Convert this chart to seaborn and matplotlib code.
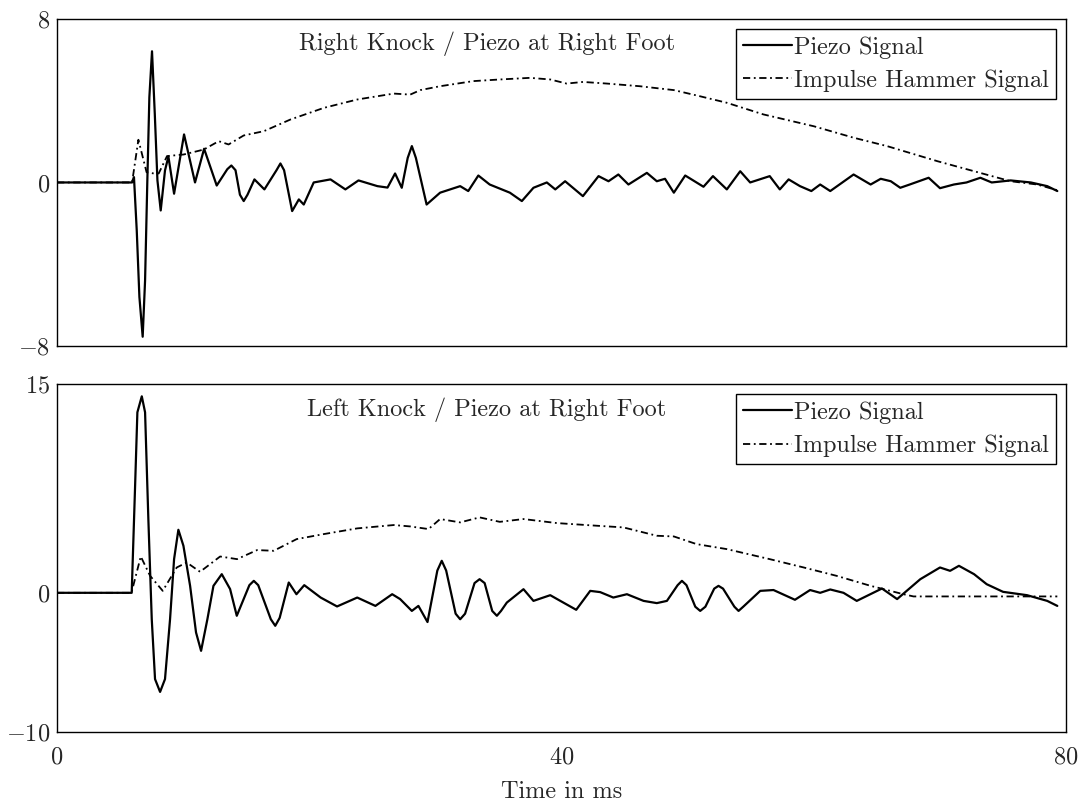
import numpy as np
import pandas as pd
import matplotlib
matplotlib.use("Agg")
import matplotlib.pyplot as plt
import seaborn as sns

# values (time in ms, signal amplitude)
right_piezo_t = [0, 5.95, 6.1, 6.32, 6.53, 6.79, 6.98, 7.16, 7.32, 7.53, 7.75, 7.96, 8.22,
                 8.56, 8.83, 9.28, 10.07, 10.94, 11.66, 12.66, 13.5, 13.82, 14.15, 14.5, 14.8,
                 15.1, 15.65, 16.44, 17.4, 17.71, 18.0, 18.64, 19.17, 19.56, 20.35, 21.68,
                 22.86, 23.9, 25.4, 26.2, 26.8, 27.33, 27.8, 28.13, 28.45, 29.3, 30.37, 31.96,
                 32.6, 33.4, 34.3, 35.9, 36.85, 37.77, 38.83, 39.5, 40.28, 41.69, 42.93, 43.72,
                 44.5, 45.3, 46.76, 47.55, 48.2, 48.9, 49.8, 51.25, 52.0, 53.1, 54.16, 54.95,
                 56.5, 57.3, 58.0, 58.9, 59.8, 60.5, 61.3, 63.15, 64.5, 65.3, 66.1, 66.85, 67.6,
                 69.1, 70.0, 71.1, 72.1, 73.2, 74.1, 75.6, 77.2, 78.5, 79.3]
right_piezo_v = [0, 0, 0.26, -2.35, -5.6, -7.55, -4.8, 0.1, 4.17, 6.42, 3.36, 0.1, -1.37,
                 0.59, 1.27, -0.55, 2.35, 0.0, 1.65, -0.15, 0.65, 0.83, 0.6, -0.6, -0.91,
                 -0.6, 0.15, -0.34, 0.6, 0.93, 0.6, -1.4, -0.83, -1.08, 0.0, 0.15,
                 -0.34, 0.1, -0.18, -0.25, 0.44, -0.26, 1.2, 1.78, 1.2, -1.08, -0.5, -0.18,
                 -0.42, 0.34, -0.1, -0.5, -0.91, -0.26, 0.0, -0.34, 0.06, -0.67, 0.31, 0.06,
                 0.39, -0.1, 0.47, 0.06, 0.18, -0.5, 0.34, -0.21, 0.31, -0.34, 0.55, 0.0,
                 0.31, -0.34, 0.15, -0.18, -0.42, -0.1, -0.42, 0.39, -0.1, 0.18, 0.06, -0.26, -0.1,
                 0.23, -0.28, -0.1, 0.0, 0.23, 0.0, 0.1, 0.0, -0.18, -0.42]

right_hammer_t = [0, 5.95, 6.45, 7.1, 7.67, 8.06, 8.72, 10.05, 11.63, 12.82, 13.6, 14.8, 16.4,
                  18.5, 21.15, 23.8, 26.7, 28.0, 28.8, 30.37, 33.0, 35.1, 37.5, 39.1, 40.4,
                  41.7, 43.6, 46.2, 48.9, 50.7, 53.1, 56.0, 60.0, 63.15, 65.8, 69.8, 72.7,
                  75.6, 77.7, 79.3]
right_hammer_v = [0, 0, 2.09, 0.5, 0.44, 0.44, 1.29, 1.37, 1.61, 2.02, 1.86, 2.3, 2.51,
                  3.08, 3.65, 4.06, 4.35, 4.3, 4.52, 4.71, 4.96, 5.04, 5.12, 5.04, 4.84,
                  4.92, 4.84, 4.71, 4.52, 4.26, 3.9, 3.33, 2.75, 2.19, 1.78, 1.04, 0.55,
                  0.06, -0.1, -0.38]

left_piezo_t = [0, 5.92, 6.19, 6.37, 6.72, 6.98, 7.24, 7.51, 7.77, 8.17, 8.56, 8.96, 9.28,
                9.62, 10.02, 10.55, 11.02, 11.42, 11.92, 12.4, 13.06, 13.72, 14.25, 15.25,
                15.6, 15.95, 16.95, 17.3, 17.65, 18.37, 18.98, 19.6, 20.9, 22.2, 23.8, 25.24,
                26.57, 27.2, 28.13, 28.65, 29.37, 30.15, 30.5, 30.85, 31.6, 31.96, 32.35,
                33.1, 33.5, 33.9, 34.5, 34.87, 35.2, 35.66, 36.98, 37.77, 39.1, 39.9, 41.16,
                42.27, 43.06, 44.1, 45.18, 46.5, 47.55, 48.35, 49.2, 49.54, 49.9, 50.6,
                50.99, 51.4, 52.1, 52.44, 52.8, 53.7, 54.03, 54.4, 55.75, 56.8, 58.5, 59.7,
                60.5, 61.3, 62.35, 63.4, 65.4, 66.6, 68.44, 70.0, 70.8, 71.5, 72.7, 73.7,
                75.0, 76.9, 78.5, 79.3]
left_piezo_v = [0, 0, 7.7, 12.97, 14.12, 12.97, 5.3, -1.9, -6.2, -7.12, -6.2, -1.9, 2.42,
                4.53, 3.38, 0.5, -2.85, -4.17, -1.9, 0.5, 1.34, 0.27, -1.65, 0.55,
                0.86, 0.55, -1.9, -2.37, -1.8, 0.74, -0.1, 0.55, -0.34, -0.98, -0.34, -0.94,
                -0.1, -0.45, -1.3, -0.94, -2.1, 1.6, 2.3, 1.6, -1.5, -1.9, -1.5,
                0.7, 0.98, 0.7, -1.3, -1.65, -1.3, -0.7, 0.26, -0.58, -0.17, -0.58, -1.22,
                0.14, 0.05, -0.34, -0.1, -0.58, -0.74, -0.58, 0.55, 0.86, 0.55, -1.0,
                -1.3, -1.0, 0.3, 0.5, 0.3, -1.0, -1.3, -1.0, 0.14, 0.2, -0.5, 0.2,
                0.0, 0.24, 0.0, -0.58, 0.31, -0.45, 0.98, 1.82, 1.58, 1.94, 1.34, 0.62,
                0.07, -0.17, -0.58, -0.94]

left_hammer_t = [0, 5.9, 6.64, 7.38, 8.38, 9.49, 10.28, 11.34, 12.93, 14.27, 15.86, 17.18,
                 19.0, 21.15, 23.8, 26.7, 28.0, 29.45, 30.37, 31.96, 33.5, 35.1, 36.98, 39.63,
                 42.8, 44.9, 47.55, 48.9, 50.7, 53.1, 56.5, 59.2, 61.8, 64.5, 67.1, 67.9,
                 73.7, 79.3]
left_hammer_v = [0, 0, 2.61, 1.22, 0.14, 1.82, 2.18, 1.51, 2.61, 2.42, 3.07, 3.02,
                 3.86, 4.22, 4.63, 4.87, 4.77, 4.58, 5.3, 5.06, 5.42, 5.1, 5.3, 5.01,
                 4.82, 4.7, 4.1, 4.05, 3.5, 3.14, 2.42, 1.82, 1.22, 0.5, -0.1, -0.26,
                 -0.26, -0.26]

titles = ["Right Knock / Piezo at Right Foot", "Left Knock / Piezo at Right Foot"]
ylims = [(-8, 8), (-10, 15)]
yticks = [[-8, 0, 8], [-10, 0, 15]]
xticks = [0, 40, 80]

sns.set_theme(style="white")
plt.rcParams["font.family"] = ["cmr10", "DejaVu Serif"]
plt.rcParams["mathtext.fontset"] = "cm"
plt.rcParams["axes.formatter.use_mathtext"] = True

fs = 17.5
fig, axes = plt.subplots(2, 1, figsize=(10.78, 8.05), dpi=100, sharex=True,
                         gridspec_kw={"height_ratios": [327, 348]})
fig.subplots_adjust(left=0.0529, right=0.989, top=0.9764, bottom=0.0907, hspace=0.113)

panels = [(right_piezo_t, right_piezo_v, right_hammer_t, right_hammer_v),
          (left_piezo_t, left_piezo_v, left_hammer_t, left_hammer_v)]

for i, ax in enumerate(axes):
    pt, pv, ht, hv = panels[i]
    sns.lineplot(x=pt, y=pv, ax=ax, color="black", linewidth=1.6, label="Piezo Signal")
    sns.lineplot(x=ht, y=hv, ax=ax, color="black", linewidth=1.3,
                 dashes=(4, 2, 1, 2), label="Impulse Hammer Signal")
    ax.set_xlim(0, 80)
    ax.set_ylim(*ylims[i])
    ax.set_yticks(yticks[i])
    ax.set_xticks(xticks)
    ax.tick_params(axis="y", length=0, pad=5, labelsize=fs)
    ax.tick_params(axis="x", length=0, pad=10, labelsize=fs)
    for s in ax.spines.values():
        s.set_color("black")
        s.set_linewidth(1.0)
    ax.text(0.426, 0.925, titles[i], transform=ax.transAxes, ha="center", va="center",
            fontsize=fs)
    ax.legend(loc="upper right", frameon=True, fancybox=False, edgecolor="black",
              framealpha=1, fontsize=fs, handlelength=2.0, handletextpad=0.1,
              borderpad=0.3, labelspacing=0.45, borderaxespad=0.4)
    ax.get_legend().get_frame().set_linewidth(1.0)
    ax.set_ylabel("")

axes[0].tick_params(labelbottom=False)
axes[1].set_xlabel("Time in ms", fontsize=fs, labelpad=9)

fig.savefig("out.png", dpi=100)
